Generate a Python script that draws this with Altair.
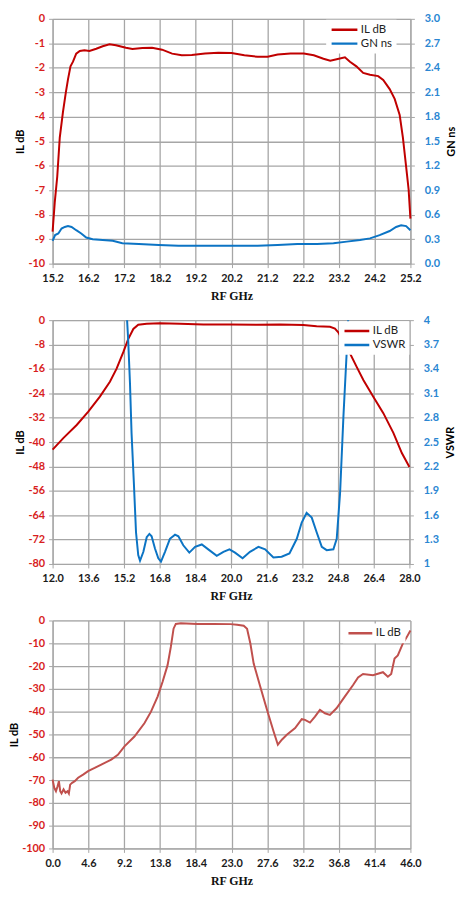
import altair as alt
import pandas as pd

RED = "#C00000"
BLUE = "#0C74C4"
RED3 = "#C0504D"
LBL_RED = "#D81E1E"
LBL_BLUE = "#2A86D2"
GRID = "#A6A6A6"

# ---------------- Panel 1 ----------------
p1_il_f = [15.2, 15.26, 15.33, 15.40, 15.49, 15.57, 15.63, 15.70, 15.77, 15.86, 15.96, 16.09,
           16.23, 16.42, 16.60, 16.79, 16.97, 17.25, 17.43, 17.71, 17.98, 18.26, 18.54, 18.81,
           19.09, 19.46, 19.83, 20.20, 20.56, 20.93, 21.21, 21.49, 21.85, 22.22, 22.50, 22.77,
           22.96, 23.14, 23.37, 23.51, 23.69, 23.88, 24.07, 24.30, 24.44, 24.62, 24.76, 24.90,
           24.99, 25.08, 25.15, 25.2]
p1_il = [-8.69, -7.5, -6.44, -4.85, -3.8, -3.0, -2.47, -1.94, -1.75, -1.42, -1.31, -1.28,
         -1.31, -1.22, -1.12, -1.04, -1.08, -1.18, -1.23, -1.19, -1.18, -1.26, -1.42, -1.49,
         -1.48, -1.42, -1.39, -1.40, -1.49, -1.55, -1.55, -1.46, -1.42, -1.42, -1.49, -1.63,
         -1.71, -1.65, -1.57, -1.75, -1.94, -2.21, -2.28, -2.34, -2.5, -2.87, -3.27, -3.93,
         -4.85, -6.04, -6.97, -8.16]
p1_gn_f = [15.2, 15.27, 15.36, 15.45, 15.54, 15.63, 15.73, 15.86, 16.0, 16.14, 16.32, 16.60,
           16.88, 17.15, 17.61, 18.17, 18.72, 19.27, 19.83, 20.38, 20.93, 21.49, 22.04, 22.59,
           23.05, 23.42, 23.79, 24.07, 24.34, 24.62, 24.80, 24.94, 25.08, 25.2]
p1_gn = [0.28, 0.35, 0.37, 0.43, 0.45, 0.46, 0.45, 0.41, 0.37, 0.32, 0.30, 0.29,
         0.28, 0.25, 0.24, 0.23, 0.22, 0.22, 0.22, 0.22, 0.22, 0.23, 0.24, 0.24,
         0.25, 0.27, 0.29, 0.31, 0.35, 0.40, 0.45, 0.47, 0.46, 0.41]
p1_xticks = [15.2, 16.2, 17.2, 18.2, 19.2, 20.2, 21.2, 22.2, 23.2, 24.2, 25.2]
p1_yticks = [0, -1, -2, -3, -4, -5, -6, -7, -8, -9, -10]
p1_rticks = [0.0, 0.3, 0.6, 0.9, 1.2, 1.5, 1.8, 2.1, 2.4, 2.7, 3.0]

# ---------------- Panel 2 ----------------
p2_il_f = [12.0, 12.48, 13.08, 13.60, 14.12, 14.57, 14.87, 15.17, 15.39, 15.62, 15.84, 16.22,
           16.81, 17.71, 18.76, 19.95, 21.15, 22.2, 23.24, 23.84, 24.44, 24.66, 24.81, 25.0,
           25.26, 25.64, 25.94, 26.38, 26.83, 27.28, 27.66, 28.0]
p2_il = [-42.5, -38.7, -34.4, -30.0, -25.1, -20.2, -15.9, -10.5, -6.2, -2.9, -1.5, -1.2,
         -1.0, -1.2, -1.4, -1.4, -1.5, -1.4, -1.6, -2.0, -2.2, -2.8, -4.0, -6.5,
         -9.8, -15.4, -19.7, -25.1, -30.5, -37.0, -43.6, -48.2]
p2_vs_f = [15.28, 15.39, 15.47, 15.54, 15.65, 15.74, 15.84, 15.92, 16.07, 16.22, 16.34, 16.44,
           16.59, 16.74, 16.86, 17.04, 17.26, 17.49, 17.64, 17.86, 18.13, 18.39, 18.69, 18.98,
           19.36, 19.66, 19.93, 20.18, 20.52, 20.85, 21.23, 21.53, 21.90, 22.27, 22.62, 22.95,
           23.17, 23.39, 23.62, 23.84, 24.07, 24.29, 24.59, 24.74, 24.89, 25.04, 25.19, 25.30]
p2_vs = [4.3, 3.75, 3.22, 2.61, 1.96, 1.39, 1.11, 1.04, 1.15, 1.33, 1.37, 1.34,
         1.19, 1.07, 1.03, 1.15, 1.31, 1.36, 1.34, 1.23, 1.14, 1.21, 1.24, 1.18,
         1.10, 1.15, 1.18, 1.14, 1.07, 1.15, 1.21, 1.18, 1.08, 1.09, 1.13, 1.31,
         1.51, 1.63, 1.57, 1.39, 1.21, 1.17, 1.18, 1.31, 1.87, 2.81, 3.62, 4.3]
p2_xticks = [12.0, 13.6, 15.2, 16.8, 18.4, 20.0, 21.6, 23.2, 24.8, 26.4, 28.0]
p2_yticks = [0, -8, -16, -24, -32, -40, -48, -56, -64, -72, -80]
p2_rticks = [1, 1.3, 1.6, 1.9, 2.2, 2.5, 2.8, 3.1, 3.4, 3.7, 4]

# ---------------- Panel 3 ----------------
p3_f = [0.0, 0.21, 0.43, 0.64, 0.81, 0.98, 1.15, 1.41, 1.66, 1.92, 2.09, 2.26, 2.51, 2.85,
        3.28, 3.92, 4.56, 5.41, 6.26, 7.54, 8.39, 9.24, 10.52, 11.80, 12.65, 13.50, 14.14,
        14.78, 15.20, 15.55, 15.84, 16.48, 18.61, 20.74, 22.87, 23.72, 24.57, 25.0, 25.43,
        25.85, 26.70, 27.56, 28.41, 28.96, 29.47, 30.11, 31.18, 32.03, 32.45, 33.09, 33.73,
        34.37, 35.01, 35.65, 36.50, 37.56, 38.63, 39.27, 39.91, 41.19, 42.47, 43.10, 43.53,
        43.96, 44.38, 45.02, 45.53, 46.0]
p3_il = [-69.8, -73.4, -74.9, -72.7, -70.5, -74.9, -75.9, -74.1, -75.6, -74.9, -75.9, -72.0,
         -71.2, -70.5, -69.0, -67.6, -66.1, -64.7, -63.2, -61.0, -58.9, -55.2, -50.9, -45.1,
         -40.0, -33.4, -26.9, -19.6, -11.6, -3.6, -1.5, -1.2, -1.5, -1.5, -1.6, -1.9, -2.3,
         -3.6, -10.2, -18.9, -29.1, -39.2, -48.7, -54.5, -52.3, -50.1, -47.2, -43.3, -43.6,
         -44.8, -42.2, -39.2, -40.7, -41.4, -38.5, -33.4, -28.3, -25.0, -23.5, -24.0, -22.7,
         -24.7, -23.5, -16.7, -15.3, -10.2, -7.3, -4.4]
p3_xticks = [0.0, 4.6, 9.2, 13.8, 18.4, 23.0, 27.6, 32.2, 36.8, 41.4, 46.0]
p3_yticks = [0, -10, -20, -30, -40, -50, -60, -70, -80, -90, -100]

FONT = "Lato"
TFONT = "Liberation Serif"


def x_axis(vals):
    return alt.Axis(values=vals, format=".1f", title="RF GHz", titleFont=TFONT,
                    titleFontSize=12, titleFontWeight="bold", titleColor="#111111",
                    titlePadding=7, labelFont=FONT, labelFontSize=11, labelFontWeight="bold",
                    labelColor="#1A1A1A", labelPadding=5, tickSize=4, tickColor=GRID,
                    domainColor=GRID, gridColor=GRID, gridWidth=1.3, grid=True,
                    labelFlush=False, labelOverlap=False)


def left_axis(vals, title="IL dB"):
    return alt.Axis(values=vals, labelExpr="datum.value + ''", title=title, orient="left",
                    titleFont=FONT, titleFontSize=11, titleFontWeight="bold", titleColor="#000000",
                    titleAngle=270, titlePadding=2, labelFont=FONT, labelFontSize=11,
                    labelFontWeight="bold", labelColor=LBL_RED, labelPadding=4, tickSize=4,
                    tickColor=GRID, domainColor=GRID, gridColor=GRID, gridWidth=1.3, grid=True,
                    labelOverlap=False)


def right_axis(vals, title, fmt):
    return alt.Axis(values=vals, format=fmt, title=title, orient="right",
                    titleFont=FONT, titleFontSize=11, titleFontWeight="bold", titleColor="#000000",
                    titleAngle=270, titleBaseline="top", titlePadding=6, labelFont=FONT,
                    labelFontSize=11, labelFontWeight="bold", labelColor=LBL_BLUE, labelPadding=10,
                    tickSize=4, tickColor=GRID, domainColor=GRID, grid=False, labelOverlap=False)


def legend(lx, ly, size):
    return alt.Legend(title=None, orient="none", legendX=lx, legendY=ly, fillColor="white",
                      padding=4, symbolType="stroke", symbolSize=size, symbolStrokeWidth=2.5,
                      labelFont=FONT, labelFontSize=11.5, labelColor="#222222", clipHeight=12,
                      rowPadding=2, labelOffset=2)


# Panel 1
d1a = pd.DataFrame({"f": p1_il_f, "v": p1_il, "s": "IL dB"})
d1b = pd.DataFrame({"f": p1_gn_f, "v": p1_gn, "s": "GN ns"})
c1 = alt.Color("s:N", scale=alt.Scale(domain=["IL dB", "GN ns"], range=[RED, BLUE]),
               legend=legend(276, 1, 676))
x1 = alt.X("f:Q", scale=alt.Scale(domain=[15.2, 25.2], nice=False, zero=False), axis=x_axis(p1_xticks))
a1 = alt.Chart(d1a).mark_line(strokeWidth=2).encode(
    x=x1, y=alt.Y("v:Q", scale=alt.Scale(domain=[-10, 0], nice=False), axis=left_axis(p1_yticks)), color=c1)
b1 = alt.Chart(d1b).mark_line(strokeWidth=2).encode(
    x=x1, y=alt.Y("v:Q", scale=alt.Scale(domain=[0, 3], nice=False, zero=False),
                  axis=right_axis(p1_rticks, "GN ns", ".1f")), color=c1)
panel1 = alt.layer(a1, b1).resolve_scale(y="independent").properties(width=361, height=247)

# Panel 2
d2a = pd.DataFrame({"f": p2_il_f, "v": p2_il, "s2": "IL dB"})
d2b = pd.DataFrame({"f": p2_vs_f, "v": p2_vs, "s2": "VSWR"})
c2 = alt.Color("s2:N", scale=alt.Scale(domain=["IL dB", "VSWR"], range=[RED, BLUE]),
               legend=legend(289, 1, 625))
x2 = alt.X("f:Q", scale=alt.Scale(domain=[12, 28], nice=False, zero=False), axis=x_axis(p2_xticks))
a2 = alt.Chart(d2a).mark_line(strokeWidth=2).encode(
    x=x2, y=alt.Y("v:Q", scale=alt.Scale(domain=[-80, 0], nice=False), axis=left_axis(p2_yticks)), color=c2)
b2 = alt.Chart(d2b).mark_line(strokeWidth=2, clip=True).encode(
    x=x2, y=alt.Y("v:Q", scale=alt.Scale(domain=[1, 4], nice=False, zero=False),
                  axis=right_axis(p2_rticks, "VSWR", ".2~f")), color=c2)
panel2 = alt.layer(a2, b2).resolve_scale(y="independent").properties(width=360, height=246)

# Panel 3
d3 = pd.DataFrame({"f": p3_f, "v": p3_il, "s3": "IL dB"})
c3 = alt.Color("s3:N", scale=alt.Scale(domain=["IL dB"], range=[RED3]), legend=legend(293, 3, 576))
panel3 = alt.Chart(d3).mark_line(strokeWidth=2).encode(
    x=alt.X("f:Q", scale=alt.Scale(domain=[0, 46], nice=False, zero=False), axis=x_axis(p3_xticks)),
    y=alt.Y("v:Q", scale=alt.Scale(domain=[-100, 0], nice=False), axis=left_axis(p3_yticks)),
    color=c3).properties(width=361, height=230)

chart = alt.vconcat(panel1, panel2, panel3, spacing=11).resolve_scale(
    x="independent", y="independent", color="independent"
).properties(
    padding={"left": 0, "top": 0, "right": 0, "bottom": 0}
).configure_view(stroke="transparent").configure(background="white")

chart.save("out.html", embed_options={"renderer": "svg", "actions": False})
